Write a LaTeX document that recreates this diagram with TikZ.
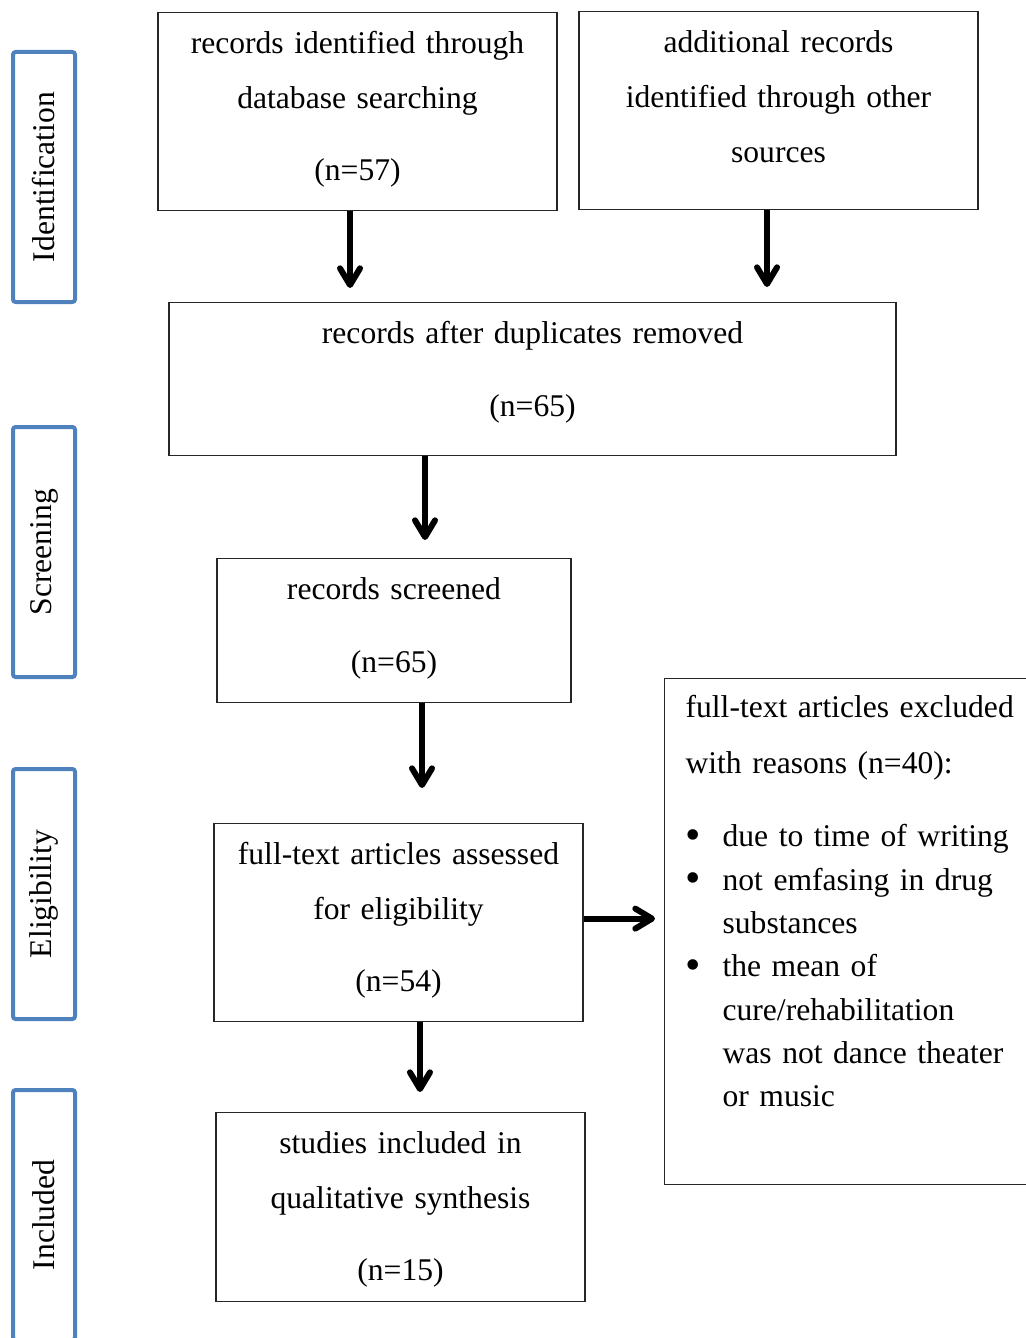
\documentclass[tikz,border=0pt]{standalone}
\usepackage{fontspec}
\setmainfont{Liberation Serif}
\usetikzlibrary{arrows.meta}

\definecolor{phaseblue}{RGB}{79,129,189}
\newcommand{\bul}{\makebox[27.75pt][l]{\raisebox{-2pt}{\fontsize{33}{33}\selectfont\textbullet}}}
\newcommand{\ind}{\hspace*{27.75pt}}

\tikzset{
  stage/.style={draw=black!85, line width=0.9pt, anchor=north, inner sep=0pt, align=center, text height=30.75pt},
  phase/.style={draw=phaseblue, line width=3pt, rounded corners=2pt, rotate=90, minimum width=187.5pt, minimum height=46.5pt, inner sep=0pt},
  flow/.style={line width=4.5pt, -{Straight Barb[length=12.5pt,width=15pt,round]}},
}

\begin{document}
\begin{tikzpicture}[x=0.75pt,y=-0.75pt,font=\fontsize{23.7}{41.25}\selectfont]
\useasboundingbox (0,0) rectangle (1025,1338);

% phases
\node[phase] (ident) at (44,177) {Identification};
\node[phase] (screening) at (44,552) {Screening};
\node[phase] (elig) at (44,894) {Eligibility};
\node[phase] (incl) at (44,1215) {Included};

% boxes
\node[stage, text width=299.25pt, text depth=117.75pt] (db) at (357.5,12) {records identified through\\database searching\\[12.75pt](n=57)};
\node[stage, text width=299.25pt, text depth=117.75pt] (other) at (778.5,11) {additional records\\identified through other\\sources};
\node[stage, text width=545.25pt, text depth=84pt] (dedup) at (532.5,302) {records after duplicates removed\\[13.5pt](n=65)};
\node[stage, text width=265.5pt, text depth=77.25pt] (screen) at (394,558) {records screened\\[13.5pt](n=65)};
\node[stage, text width=276.75pt, text depth=117.75pt] (assess) at (398.5,823) {full-text articles assessed\\for eligibility\\[12.75pt](n=54)};
\node[stage, text width=276.75pt, text depth=111pt] (incl box) at (400.5,1112) {studies included in\\qualitative synthesis\\[12.75pt](n=15)};
\node[stage, anchor=north west, inner xsep=15.75pt, text width=255pt, align=left, text height=29.25pt, text depth=350.25pt, font=\fontsize{23.7}{32.5}\selectfont] (excl) at (664,678)
  {full-text articles excluded\\[9.5pt]
   with reasons (n=40):\\[22.3pt]
   \bul due to time of writing\\
   \bul not emfasing in drug\\
   \ind substances\\
   \bul the mean of\\
   \ind cure/rehabilitation\\
   \ind was not dance theater\\
   \ind or music};

% arrows
\draw[flow, shorten >=10.5pt] ([xshift=-5.6pt]db.south) -- ([xshift=-5.6pt]db.south |- dedup.north);
\draw[flow, shorten >=11.25pt] ([xshift=-8.6pt]other.south) -- ([xshift=-8.6pt]other.south |- dedup.north);
\draw[flow, shorten >=13.5pt] ([xshift=23.25pt]screen.north |- dedup.south) -- ([xshift=23.25pt]screen.north);
\draw[flow, shorten >=26.25pt] ([xshift=21pt]screen.south) -- ([xshift=21pt]screen.south |- assess.north);
\draw[flow, shorten >=15pt] ([xshift=16.1pt]assess.south) -- ([xshift=16.1pt]assess.south |- incl box.north);
\draw[flow, shorten >=6.75pt] ([yshift=3pt]assess.east) -- ([yshift=3pt]assess.east -| excl.west);

\end{tikzpicture}
\end{document}
